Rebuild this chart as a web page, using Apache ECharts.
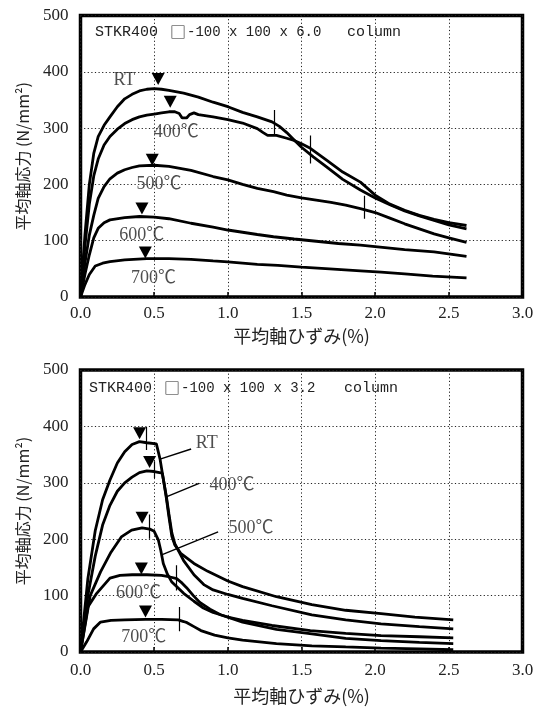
<!DOCTYPE html>
<html><head><meta charset="utf-8">
<script src="https://cdn.jsdelivr.net/npm/echarts@6/dist/echarts.min.js"></script>
<style>html,body{margin:0;padding:0;background:#fff}#c{width:543px;height:707px}</style>
</head><body><div id="c"></div>
<script>
// ---------- axis ticks ----------
const xTicks = [0.0, 0.5, 1.0, 1.5, 2.0, 2.5, 3.0];
const yTicks = [0, 100, 200, 300, 400, 500];

// ---------- upper chart: STKR400 □-100x100x6.0 (strain %, stress N/mm2) ----------
const t6_RT = [[0,0],[0.03,110],[0.06,200],[0.09,255],[0.12,285],[0.16,305],[0.2,320],[0.25,338],[0.3,352],[0.35,360],[0.4,366],[0.45,369],[0.5,370],[0.55,369],[0.6,367],[0.7,362],[0.8,355],[0.9,346],[1.0,338],[1.1,328],[1.2,320],[1.3,311],[1.35,303],[1.4,292],[1.45,279],[1.5,266],[1.58,249],[1.67,231],[1.78,209],[1.9,190],[2.0,176],[2.1,164],[2.2,153],[2.3,144],[2.4,136],[2.5,128],[2.62,121]];
const t6_400 = [[0,0],[0.03,90],[0.06,165],[0.09,215],[0.12,245],[0.16,270],[0.2,285],[0.25,298],[0.3,308],[0.35,315],[0.4,320],[0.45,323],[0.5,325],[0.55,327],[0.6,329],[0.64,329],[0.67,326],[0.69,318],[0.7,315],[0.72,318],[0.74,324],[0.77,327],[0.8,324],[0.9,320],[1.0,315],[1.1,309],[1.2,299],[1.24,292],[1.27,287],[1.33,287],[1.4,282],[1.45,278],[1.5,272],[1.56,264],[1.67,243],[1.78,222],[1.9,204],[2.0,181],[2.1,165],[2.2,154],[2.3,145],[2.4,138],[2.5,132],[2.62,127]];
const t6_500 = [[0,0],[0.03,60],[0.06,110],[0.09,145],[0.12,175],[0.16,196],[0.2,210],[0.25,220],[0.3,226],[0.35,230],[0.4,233],[0.5,234],[0.6,232],[0.75,225],[0.9,214],[1.0,208],[1.1,200],[1.2,193],[1.31,187],[1.4,181],[1.5,176],[1.6,172],[1.7,168],[1.8,163],[1.9,157],[2.0,150],[2.1,140],[2.2,130],[2.3,121],[2.4,112],[2.5,105],[2.62,97]];
const t6_600 = [[0,0],[0.03,40],[0.06,75],[0.09,105],[0.12,122],[0.16,132],[0.2,137],[0.3,141],[0.4,143],[0.5,142],[0.6,139],[0.75,131],[0.9,124],[1.0,119],[1.1,115],[1.2,111],[1.31,107],[1.45,103],[1.6,99],[1.75,95],[1.9,92],[2.05,88],[2.2,84],[2.4,80],[2.62,72]];
const t6_700 = [[0,0],[0.03,22],[0.06,40],[0.1,55],[0.15,60],[0.2,63],[0.3,66],[0.45,68],[0.6,68],[0.75,67],[0.9,64],[1.0,62.5],[1.2,58],[1.34,56],[1.5,53],[1.69,50],[1.9,46.5],[2.04,44],[2.2,41],[2.39,37],[2.62,34]];
const t6_peaks = [[0.527,387],[0.609,347],[0.487,244],[0.417,157],[0.44,79]];
const t6_marks = [[1.317,287,332],[1.558,237,287],[1.926,139,180]];
const t6_labels = [['RT',0.298,385],['400℃',0.65,293],['500℃',0.532,200],['600℃',0.415,109],['700℃',0.495,34]];

// ---------- lower chart: STKR400 □-100x100x3.2 ----------
const t32_RT = [[0,0],[0.05,130],[0.1,215],[0.15,270],[0.2,305],[0.25,335],[0.3,355],[0.35,368],[0.4,373],[0.45,371],[0.515,369],[0.54,342],[0.56,310],[0.58,278],[0.6,240],[0.62,205],[0.64,190],[0.68,175],[0.77,157],[0.864,143],[1.0,126],[1.1,116],[1.33,98],[1.57,84],[1.8,74],[2.04,68],[2.27,62],[2.53,57]];
const t32_400 = [[0,0],[0.05,100],[0.1,170],[0.15,225],[0.2,260],[0.25,285],[0.3,300],[0.35,310],[0.4,318],[0.45,321],[0.5,320],[0.555,317],[0.57,295],[0.585,272],[0.6,245],[0.62,211],[0.64,192],[0.7,162],[0.77,137],[0.84,119],[0.9,110],[1.0,102],[1.1,95],[1.3,82],[1.57,66],[1.8,57],[2.04,50],[2.3,45],[2.53,41]];
const t32_500 = [[0,0],[0.066,100],[0.136,142],[0.207,177],[0.277,204],[0.347,216],[0.418,220],[0.47,218],[0.5,214],[0.528,199],[0.545,180],[0.562,157],[0.59,138],[0.62,124],[0.7,104],[0.77,90],[0.834,78],[0.9,70],[1.0,62],[1.1,56],[1.3,47],[1.56,38],[1.8,33],[2.04,29],[2.3,27],[2.53,25]];
const t32_600 = [[0,0],[0.05,80],[0.11,104],[0.2,131],[0.268,136],[0.35,137],[0.45,137],[0.55,136],[0.608,133],[0.653,130],[0.69,122],[0.72,114],[0.766,100],[0.81,88],[0.879,76],[0.95,66],[1.1,53],[1.33,40],[1.57,32],[1.8,24],[2.04,20],[2.3,17],[2.53,15]];
const t32_700 = [[0,0],[0.042,18],[0.089,41],[0.136,53],[0.207,56],[0.3,57],[0.441,58],[0.55,58],[0.664,57],[0.7,54],[0.723,52],[0.77,45],[0.817,38],[0.91,30],[1.0,25],[1.1,21],[1.33,15],[1.57,11],[1.8,9],[2.04,7],[2.3,5.5],[2.53,4]];
const t32_peaks = [[0.401,388],[0.469,337],[0.418,238],[0.413,148],[0.441,72]];
const t32_marks = [[0.446,358,399],[0.5,308,338],[0.469,201,244],[0.648,109,154],[0.671,37,80]];
const t32_leaders = [[0.751,360,0.54,342],[0.805,299,0.582,275],[0.934,213,0.559,173]];
const t32_labels = [['RT',0.857,370],['400℃',1.028,296],['500℃',1.157,220],['600℃',0.394,103.5],['700℃',0.43,25.4]];

const xName = '平均軸ひずみ(%)';
const yName = '平均軸応力 (N/mm²)';

// ---------- styling ----------
const SERIF = '"Liberation Serif", "Noto Sans CJK JP", serif';
const MONO = '"Liberation Mono", "DejaVu Sans Mono", monospace';
const CJK = '"Noto Sans CJK JP", sans-serif';
const TXT = '#222';
const GRID_LINE = {type: [1.2, 2.4], color: '#222', width: 1};

function xAxisFor(gi, labelMargin, nameGap) {
  return {
    gridIndex: gi, type: 'value', min: xTicks[0], max: xTicks[xTicks.length-1], interval: 0.5,
    name: xName, nameLocation: 'middle', nameGap: nameGap,
    nameTextStyle: {fontFamily: CJK, fontSize: 18, color: TXT},
    axisLine: {show: false},
    axisTick: {show: true, inside: true, length: 5, lineStyle: {color: '#000', width: 1.5}},
    axisLabel: {margin: labelMargin, fontFamily: SERIF, fontSize: 17, color: TXT, formatter: v => v.toFixed(1)},
    splitLine: {show: true, lineStyle: GRID_LINE}
  };
}
function yAxisFor(gi) {
  return {
    gridIndex: gi, type: 'value', min: yTicks[0], max: yTicks[yTicks.length-1], interval: 100,
    name: yName, nameLocation: 'middle', nameGap: 50, nameRotate: 90,
    nameTextStyle: {fontFamily: CJK, fontSize: 16, color: TXT},
    axisLine: {show: false}, axisTick: {show: false},
    axisLabel: {margin: 12, fontFamily: SERIF, fontSize: 17, color: TXT},
    splitLine: {show: true, lineStyle: GRID_LINE}
  };
}

function curve(data, gi) {
  return {type: 'line', xAxisIndex: gi, yAxisIndex: gi, data: data, symbol: 'none', smooth: false,
    lineStyle: {color: '#000', width: 2.8}, z: 3};
}
function peaks(data, gi) {
  return {type: 'scatter', xAxisIndex: gi, yAxisIndex: gi, data: data, symbol: 'triangle', symbolRotate: 180,
    symbolSize: [13, 12], itemStyle: {color: '#000', opacity: 1}, z: 4};
}
function vmarks(data, gi) {
  return {type: 'lines', coordinateSystem: 'cartesian2d', xAxisIndex: gi, yAxisIndex: gi,
    data: data.map(m => ({coords: [[m[0], m[1]], [m[0], m[2]]]})),
    lineStyle: {color: '#000', width: 1.2, opacity: 1, curveness: 0}, z: 4};
}
function leaders(data, gi) {
  return {type: 'lines', coordinateSystem: 'cartesian2d', xAxisIndex: gi, yAxisIndex: gi,
    data: data.map(m => ({coords: [[m[0], m[1]], [m[2], m[3]]]})),
    lineStyle: {color: '#000', width: 1.5, opacity: 1, curveness: 0}, z: 4};
}
function labels(data, gi) {
  return {type: 'scatter', xAxisIndex: gi, yAxisIndex: gi, symbol: 'circle', symbolSize: 1,
    itemStyle: {color: 'rgba(0,0,0,0)'},
    data: data.map(l => ({name: l[0], value: [l[1], l[2]]})),
    label: {show: true, position: 'inside', formatter: p => p.name, fontFamily: SERIF, fontSize: 18, color: TXT},
    z: 5};
}

function txt(x, y, s, font, size) {
  return {type: 'text', x: x, y: y, z: 10,
    style: {text: s, fontFamily: font, fontSize: size, fill: TXT, verticalAlign: 'middle', align: 'left'}};
}

const chart = echarts.init(document.getElementById('c'), null, {renderer: 'canvas'});
chart.setOption({
  animation: false,
  backgroundColor: '#fff',
  grid: [
    {left: 80.5, top: 15.5, width: 442, height: 281.5, show: true, borderColor: '#000', borderWidth: 3.5, backgroundColor: 'rgba(0,0,0,0)'},
    {left: 80.5, top: 370, width: 442, height: 282, show: true, borderColor: '#000', borderWidth: 3.5, backgroundColor: 'rgba(0,0,0,0)'}
  ],
  xAxis: [xAxisFor(0, 8, 30), xAxisFor(1, 10, 35)],
  yAxis: [yAxisFor(0), yAxisFor(1)],
  series: [
    curve(t6_RT, 0), curve(t6_400, 0), curve(t6_500, 0), curve(t6_600, 0), curve(t6_700, 0),
    peaks(t6_peaks, 0), vmarks(t6_marks, 0), labels(t6_labels, 0),
    curve(t32_RT, 1), curve(t32_400, 1), curve(t32_500, 1), curve(t32_600, 1), curve(t32_700, 1),
    peaks(t32_peaks, 1), vmarks(t32_marks, 1), leaders(t32_leaders, 1), labels(t32_labels, 1)
  ],
  graphic: [
    txt(95, 32, 'STKR400', MONO, 15),
    txt(170, 32, '□', CJK, 16),
    txt(187, 32, '-100 x 100 x 6.0', MONO, 14),
    txt(347, 32, 'column', MONO, 15),
    txt(89, 388, 'STKR400', MONO, 15),
    txt(164, 388, '□', CJK, 16),
    txt(181, 388, '-100 x 100 x 3.2', MONO, 14),
    txt(344, 388, 'column', MONO, 15)
  ]
});
</script></body></html>
